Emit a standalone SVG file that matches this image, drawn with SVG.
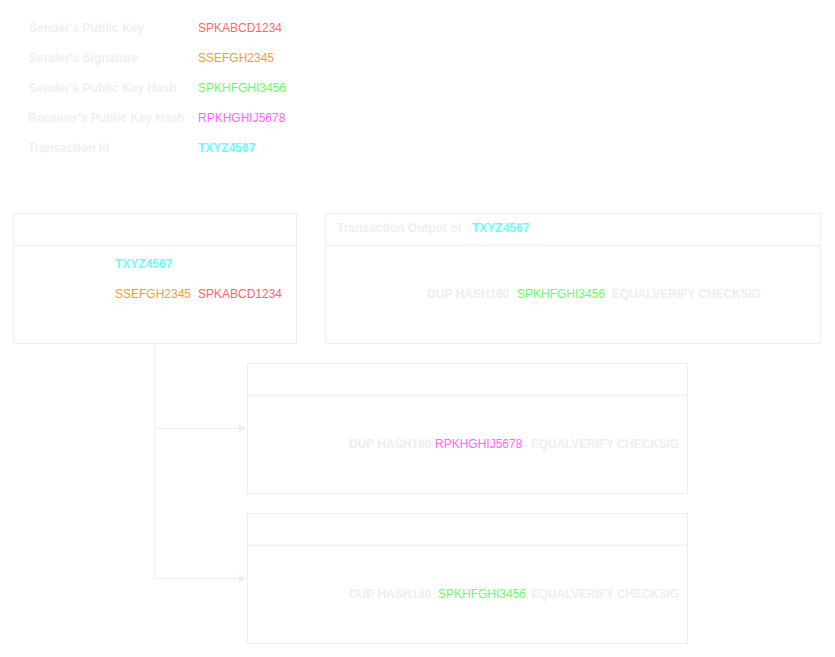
<svg xmlns="http://www.w3.org/2000/svg" width="835" height="657" viewBox="0 0 835 657">
<defs>
<style>
text{font-family:"Liberation Sans",Arial,sans-serif;font-size:12px}
.lbl{font-weight:bold;fill:#efefef}
.g{fill:#eeeeee;font-weight:bold}
.b{font-weight:bold}
.red{fill:#ff6666}
.org{fill:#ff9933}
.grn{fill:#66ff66}
.mag{fill:#ff66ff}
.cyn{fill:#66ffff}
.box{fill:#ffffff;stroke:#eeeeee;stroke-width:1}
.sep{stroke:#f2f2f2;stroke-width:2}
.con{fill:none;stroke:#eeeeee;stroke-width:1}
</style>
<marker id="arr" viewBox="0 0 10 10" refX="9" refY="5" markerWidth="8" markerHeight="8" markerUnits="userSpaceOnUse" orient="auto">
<path d="M0,0 L10,5 L0,10 z" fill="#eeeeee"/>
</marker>
</defs>
<rect width="835" height="657" fill="#ffffff"/>
<g id="legend">
<text class="lbl" x="29" y="32">Sender's Public Key</text>
<text class="red" x="198" y="32">SPKABCD1234</text>
<text class="lbl" x="29" y="62">Sender's Signature</text>
<text class="org" x="198" y="62">SSEFGH2345</text>
<text class="lbl" x="29" y="92">Sender's Public Key Hash</text>
<text class="grn" x="198" y="92">SPKHFGHI3456</text>
<text class="lbl" x="28" y="122">Receiver's Public Key Hash</text>
<text class="mag" x="198" y="122">RPKHGHIJ5678</text>
<text class="lbl" x="28" y="152">Transaction Id</text>
<text class="cyn b" x="198" y="152">TXYZ4567</text>
</g>
<g id="connectors">
<path class="con" d="M155,343 V578"/>
<path class="con" d="M155,428.5 H246" marker-end="url(#arr)"/>
<path class="con" d="M155,578.5 H246" marker-end="url(#arr)"/>
</g>
<g id="input">
<rect class="box" x="13.5" y="213.5" width="283" height="130"/>
<line class="sep" x1="14" y1="245.5" x2="296" y2="245.5"/>
<text class="cyn b" x="115" y="268">TXYZ4567</text>
<text class="org" x="115" y="298">SSEFGH2345</text>
<text class="red" x="198" y="298">SPKABCD1234</text>
</g>
<g id="prev-output">
<rect class="box" x="325.5" y="213.5" width="495" height="130"/>
<line class="sep" x1="326" y1="245.5" x2="820" y2="245.5"/>
<text class="lbl" x="337" y="232">Transaction Output of</text>
<text class="cyn b" x="472" y="232">TXYZ4567</text>
<text class="g" x="427" y="298">DUP HASH160</text>
<text class="grn" x="517" y="298">SPKHFGHI3456</text>
<text class="g" x="612" y="298" textLength="149" lengthAdjust="spacingAndGlyphs">EQUALVERIFY CHECKSIG</text>
</g>
<g id="output-receiver">
<rect class="box" x="247.5" y="363.5" width="440" height="130"/>
<line class="sep" x1="248" y1="395.5" x2="687" y2="395.5"/>
<text class="g" x="349" y="448">DUP HASH160</text>
<text class="mag" x="435" y="448">RPKHGHIJ5678</text>
<text class="g" x="531" y="448" textLength="148" lengthAdjust="spacingAndGlyphs">EQUALVERIFY CHECKSIG</text>
</g>
<g id="output-change">
<rect class="box" x="247.5" y="513.5" width="440" height="130"/>
<line class="sep" x1="248" y1="545.5" x2="687" y2="545.5"/>
<text class="g" x="349" y="598">DUP HASH160</text>
<text class="grn" x="438" y="598">SPKHFGHI3456</text>
<text class="g" x="531" y="598" textLength="148" lengthAdjust="spacingAndGlyphs">EQUALVERIFY CHECKSIG</text>
</g>
</svg>
